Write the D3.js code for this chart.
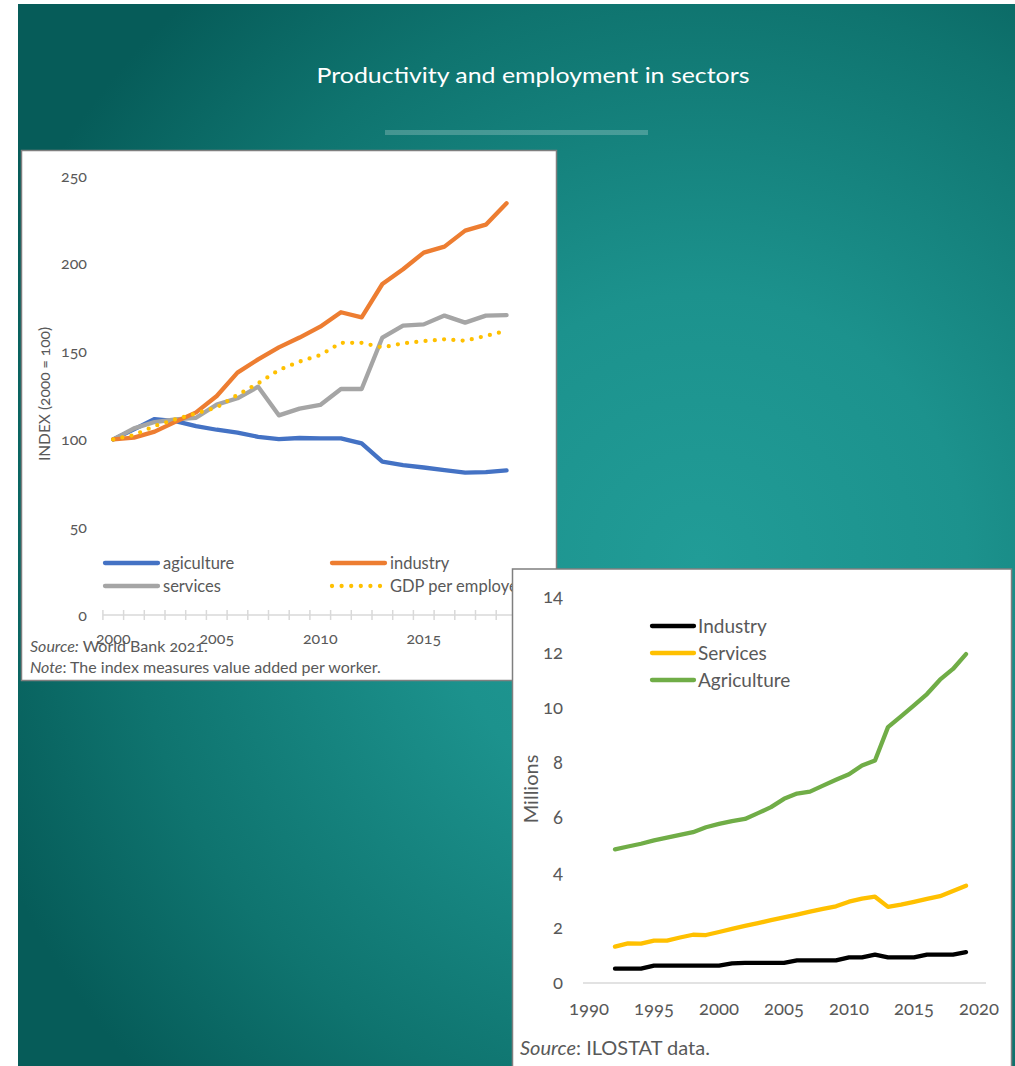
<!DOCTYPE html>
<html>
<head>
<meta charset="utf-8">
<script src="https://cdn.jsdelivr.net/npm/d3@7"></script>
<style>
  html, body { margin: 0; padding: 0; background: #ffffff; }
  svg { display: block; }
  text { font-family: Lato, "Open Sans", sans-serif; font-variant-numeric: oldstyle-nums; }
</style>
</head>
<body>
<svg id="slide" width="1015" height="1066"></svg>
<script>
// ---- Productivity index (2000 = 100), value added per worker ----
const prodYears = d3.range(2000, 2020);
const agriculture = [100, 105.7, 111.6, 110.4, 107.6, 105.5, 103.8, 101.5, 100.2, 100.8, 100.6, 100.6, 97.7, 87.3, 85.4, 84.0, 82.5, 81.1, 81.4, 82.3];
const industry    = [100, 101.0, 104.4, 110.0, 115.4, 124.7, 138.0, 145.6, 152.4, 158.0, 164.2, 172.4, 169.5, 188.5, 196.9, 206.4, 209.8, 218.9, 222.3, 234.5];
const services    = [100, 106.3, 109.9, 111.4, 112.3, 119.8, 123.4, 130.0, 113.7, 117.5, 119.6, 128.7, 128.7, 158.0, 164.8, 165.5, 170.5, 166.5, 170.5, 170.8];
const gdpPerEmployee = [100, 102.5, 107.6, 111.4, 114.8, 118.2, 125.3, 131.9, 139.5, 144.3, 148.0, 155.0, 155.0, 152.4, 154.7, 156.0, 157.0, 156.2, 158.9, 161.9];
const prodTicks = [0, 50, 100, 150, 200, 250];
const prodYearLabels = [2000, 2005, 2010, 2015];

// ---- Employment by sector (millions) ----
const empYears = d3.range(1992, 2020);
const empIndustry    = [0.52, 0.52, 0.52, 0.63, 0.63, 0.63, 0.63, 0.63, 0.63, 0.71, 0.73, 0.73, 0.73, 0.73, 0.82, 0.82, 0.82, 0.82, 0.93, 0.93, 1.03, 0.93, 0.93, 0.93, 1.03, 1.03, 1.03, 1.12];
const empServices    = [1.32, 1.44, 1.43, 1.54, 1.54, 1.65, 1.75, 1.74, 1.85, 1.96, 2.07, 2.17, 2.28, 2.38, 2.48, 2.59, 2.69, 2.78, 2.95, 3.06, 3.13, 2.76, 2.84, 2.94, 3.05, 3.15, 3.34, 3.53];
const empAgriculture = [4.85, 4.95, 5.05, 5.17, 5.27, 5.37, 5.47, 5.65, 5.77, 5.87, 5.95, 6.16, 6.38, 6.68, 6.87, 6.94, 7.16, 7.37, 7.57, 7.89, 8.07, 9.28, 9.67, 10.07, 10.48, 11.0, 11.39, 11.93];
const empTicks = [0, 2, 4, 6, 8, 10, 12, 14];
const empYearTicks = [1990, 1995, 2000, 2005, 2010, 2015, 2020];

const svg = d3.select("#slide");
const textGray = "#595959";

// Slide background
const defs = svg.append("defs");
const bg = defs.append("radialGradient").attr("id", "bgGrad")
  .attr("gradientUnits", "userSpaceOnUse")
  .attr("cx", 700).attr("cy", 560).attr("r", 760);
bg.append("stop").attr("offset", "0%").attr("stop-color", "#219c97");
bg.append("stop").attr("offset", "35%").attr("stop-color", "#1c928d");
bg.append("stop").attr("offset", "75%").attr("stop-color", "#0f746f");
bg.append("stop").attr("offset", "100%").attr("stop-color", "#065c59");
svg.append("rect").attr("x", 18).attr("y", 4).attr("width", 997).attr("height", 1062)
  .attr("fill", "url(#bgGrad)");

// Slide title and rule
svg.append("text").attr("x", 533).attr("y", 83).attr("text-anchor", "middle")
  .attr("fill", "#ffffff").attr("font-size", 22).attr("textLength", 433)
  .attr("lengthAdjust", "spacingAndGlyphs")
  .style("font-variant-numeric", "normal")
  .text("Productivity and employment in sectors");
svg.append("rect").attr("x", 385).attr("y", 130).attr("width", 263).attr("height", 5)
  .attr("fill", "#ffffff").attr("fill-opacity", 0.22);

// ================= Productivity panel =================
const p = svg.append("g");
p.append("rect").attr("x", 21.5).attr("y", 150.5).attr("width", 535).attr("height", 530)
  .attr("fill", "#ffffff").attr("stroke", "#7f7f7f").attr("stroke-width", 1.5);

const px = d3.scaleBand().domain(prodYears).range([102.9, 516.9]).padding(0);
const py = d3.scaleLinear().domain([0, 250]).range([615, 176]);
const cx = d => px(d) + px.bandwidth() / 2;

// y tick labels
p.append("g").selectAll("text").data(prodTicks).join("text")
  .attr("x", 87).attr("y", d => py(d)).attr("dy", "0.35em")
  .attr("text-anchor", "end").attr("fill", textGray).attr("font-size", 16)
  .text(d => d);

// category axis with boundary ticks
p.append("line").attr("x1", 102.9).attr("x2", 560).attr("y1", py(0)).attr("y2", py(0))
  .attr("stroke", "#d9d9d9").attr("stroke-width", 1.5);
p.append("g").selectAll("line").data(d3.range(0, prodYears.length + 1)).join("line")
  .attr("x1", i => px.range()[0] + i * px.step()).attr("x2", i => px.range()[0] + i * px.step())
  .attr("y1", py(0) - 5).attr("y2", py(0) + 5)
  .attr("stroke", "#d9d9d9").attr("stroke-width", 1.5);
p.append("g").selectAll("text").data(prodYearLabels).join("text")
  .attr("x", d => cx(d)).attr("y", 638).attr("dy", "0.35em")
  .attr("text-anchor", "middle").attr("fill", textGray).attr("font-size", 16)
  .text(d => d);

// y axis title
p.append("text").attr("transform", "translate(50,394) rotate(-90)")
  .attr("text-anchor", "middle").attr("fill", textGray).attr("font-size", 15.5)
  .text("INDEX (2000 = 100)");

const prodSeries = [
  { name: "agiculture", values: agriculture, color: "#4472c4", dotted: false },
  { name: "industry", values: industry, color: "#ed7d31", dotted: false },
  { name: "services", values: services, color: "#a5a5a5", dotted: false },
  { name: "GDP per employee", values: gdpPerEmployee, color: "#ffc000", dotted: true }
];
const drawOrder = [0, 2, 1, 3];
const pline = d3.line().x((v, i) => cx(prodYears[i])).y(v => py(v));
drawOrder.forEach(k => {
  const s = prodSeries[k];
  p.append("path").attr("d", pline(s.values)).attr("fill", "none")
    .attr("stroke", s.color).attr("stroke-width", s.dotted ? 4.3 : 4.3)
    .attr("stroke-linejoin", "round").attr("stroke-linecap", "round")
    .attr("stroke-dasharray", s.dotted ? "0 9.3" : null);
});

// legend (two columns)
const legPos = [[103, 563], [330, 563], [103, 586], [330, 586]];
prodSeries.forEach((s, k) => {
  const [lx, ly] = legPos[k];
  p.append("line").attr("x1", lx + 2).attr("x2", lx + 55).attr("y1", ly).attr("y2", ly)
    .attr("stroke", s.color).attr("stroke-width", 4.3).attr("stroke-linecap", "round")
    .attr("stroke-dasharray", s.dotted ? "0 9.6" : null);
  p.append("text").attr("x", lx + 60).attr("y", ly).attr("dy", "0.35em")
    .attr("fill", textGray).attr("font-size", 16.5).text(s.name);
});

// source and note
const src1 = p.append("text").attr("x", 30).attr("y", 652).attr("fill", textGray).attr("font-size", 16);
src1.append("tspan").attr("font-style", "italic").text("Source:");
src1.append("tspan").text(" World Bank 2021.");
const src2 = p.append("text").attr("x", 30).attr("y", 673).attr("fill", textGray).attr("font-size", 16);
src2.append("tspan").attr("font-style", "italic").text("Note");
src2.append("tspan").text(": The index measures value added per worker.");

// ================= Employment panel =================
const e = svg.append("g");
e.append("rect").attr("x", 512.5).attr("y", 569).attr("width", 499).attr("height", 500)
  .attr("fill", "#ffffff").attr("stroke", "#7f7f7f").attr("stroke-width", 1.5);

const ex = d3.scaleLinear().domain([1990, 2020]).range([589, 979]);
const ey = d3.scaleLinear().domain([0, 14]).range([983, 597]);

e.append("g").selectAll("text").data(empTicks).join("text")
  .attr("x", 563).attr("y", d => ey(d)).attr("dy", "0.35em")
  .attr("text-anchor", "end").attr("fill", textGray).attr("font-size", 18.5)
  .text(d => d);
e.append("line").attr("x1", 583).attr("x2", 986).attr("y1", ey(0)).attr("y2", ey(0))
  .attr("stroke", "#d9d9d9").attr("stroke-width", 1.5);
e.append("g").selectAll("text").data(empYearTicks).join("text")
  .attr("x", d => ex(d)).attr("y", 1009).attr("dy", "0.35em")
  .attr("text-anchor", "middle").attr("fill", textGray).attr("font-size", 18.5)
  .text(d => d);

e.append("text").attr("transform", "translate(538,789) rotate(-90)")
  .attr("text-anchor", "middle").attr("fill", textGray).attr("font-size", 20)
  .text("Millions");

const empSeries = [
  { name: "Industry", values: empIndustry, color: "#000000" },
  { name: "Services", values: empServices, color: "#ffc000" },
  { name: "Agriculture", values: empAgriculture, color: "#70ad47" }
];
const eline = d3.line().x((v, i) => ex(empYears[i])).y(v => ey(v));
empSeries.forEach(s => {
  e.append("path").attr("d", eline(s.values)).attr("fill", "none")
    .attr("stroke", s.color).attr("stroke-width", 4.3)
    .attr("stroke-linejoin", "round").attr("stroke-linecap", "round");
});

empSeries.forEach((s, k) => {
  const ly = 626 + k * 27;
  e.append("line").attr("x1", 652).attr("x2", 694).attr("y1", ly).attr("y2", ly)
    .attr("stroke", s.color).attr("stroke-width", 4.3).attr("stroke-linecap", "round");
  e.append("text").attr("x", 698).attr("y", ly).attr("dy", "0.35em")
    .attr("fill", textGray).attr("font-size", 19).text(s.name);
});

const src3 = e.append("text").attr("x", 520).attr("y", 1055).attr("fill", textGray).attr("font-size", 20);
src3.append("tspan").attr("font-style", "italic").text("Source");
src3.append("tspan").text(": ILOSTAT data.");
</script>
</body>
</html>
